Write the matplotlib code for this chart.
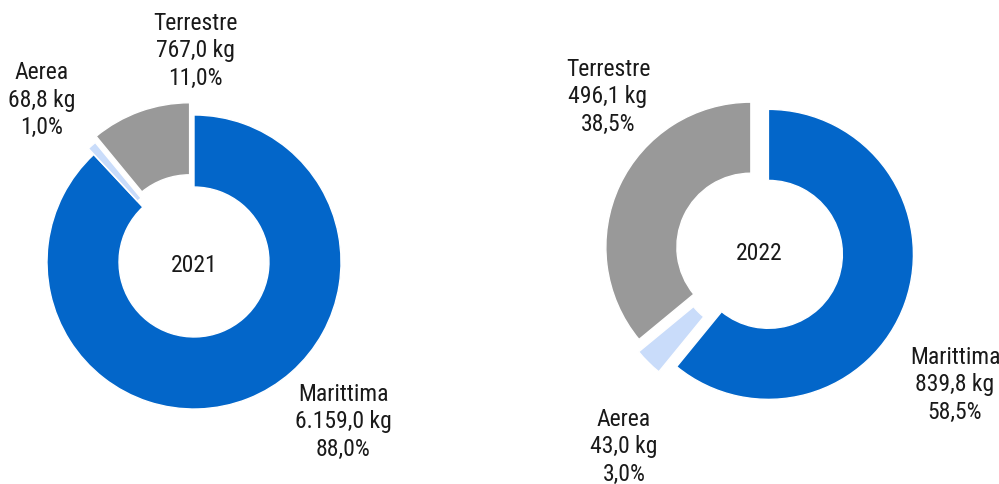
import matplotlib.pyplot as plt
from matplotlib import font_manager

# font stretto se disponibile
installati = font_manager.fontManager.ttflist
nomi = {f.name for f in installati}
font_kw = dict(family=['Roboto', 'DejaVu Sans'])
for cand in ['Liberation Sans Narrow', 'Arial Narrow', 'Roboto Condensed',
             'Open Sans Condensed', 'Noto Sans Display']:
    if cand in nomi:
        font_kw = dict(family=[cand, 'DejaVu Sans'])
        break
else:
    if any(f.name == 'DejaVu Sans' and f.stretch == 'condensed' for f in installati):
        font_kw = dict(family=['DejaVu Sans'], stretch='condensed')
    elif any(f.name == 'Noto Sans' and f.stretch in ('condensed', 'semi-condensed')
             for f in installati):
        font_kw = dict(family=['Noto Sans'], stretch='condensed')

# dati (ordine in senso orario dalle ore 12)
categorie = ['Marittima', 'Aerea', 'Terrestre']
kg_2021 = [6159.0, 68.8, 767.0]
pct_2021 = [88.0, 1.0, 11.0]
kg_2022 = [839.8, 43.0, 496.1]
pct_2022 = [58.5, 3.0, 38.5]
anni = ['2021', '2022']

colori = ['#0366C9', '#C9DCFA', '#999999']


def fmt_num(v):
    s = f"{v:,.1f}"
    return s.replace(',', 'X').replace('.', ',').replace('X', '.')


fig = plt.figure(figsize=(9.99, 4.85), dpi=100)
ax = fig.add_axes([0, 0, 1, 1])

# layout in pixel
centri = [(194, 222), (759, 233)]
raggi = [147, 145]
esplosi = [[0, 8, 13], [10, 12, 9]]
pos_etichette = [
    [(343, 63), (42, 385), (195, 434)],
    [(955, 100), (624, 38), (608, 388)],
]
serie = [(kg_2021, pct_2021), (kg_2022, pct_2022)]

for i, (kg, pct) in enumerate(serie):
    R = raggi[i]
    ax.pie(kg, colors=colori, startangle=90, counterclock=False,
           radius=R, center=centri[i], explode=esplosi[i],
           wedgeprops=dict(width=R * 0.49, edgecolor='white', linewidth=1))
    ax.text(centri[i][0], centri[i][1] - 2, anni[i], ha='center', va='center',
            fontsize=17, color='#1a1a1a', **font_kw)
    for j, cat in enumerate(categorie):
        txt = f"{cat}\n{fmt_num(kg[j])} kg\n{str(pct[j]).replace('.', ',')}%"
        ax.text(pos_etichette[i][j][0], pos_etichette[i][j][1], txt,
                ha='center', va='center', fontsize=17, color='#1a1a1a',
                linespacing=1.27, **font_kw)

ax.set_xlim(0, 999)
ax.set_ylim(0, 485)
ax.set_aspect('equal')
ax.axis('off')

fig.savefig('out.png', dpi=100)
